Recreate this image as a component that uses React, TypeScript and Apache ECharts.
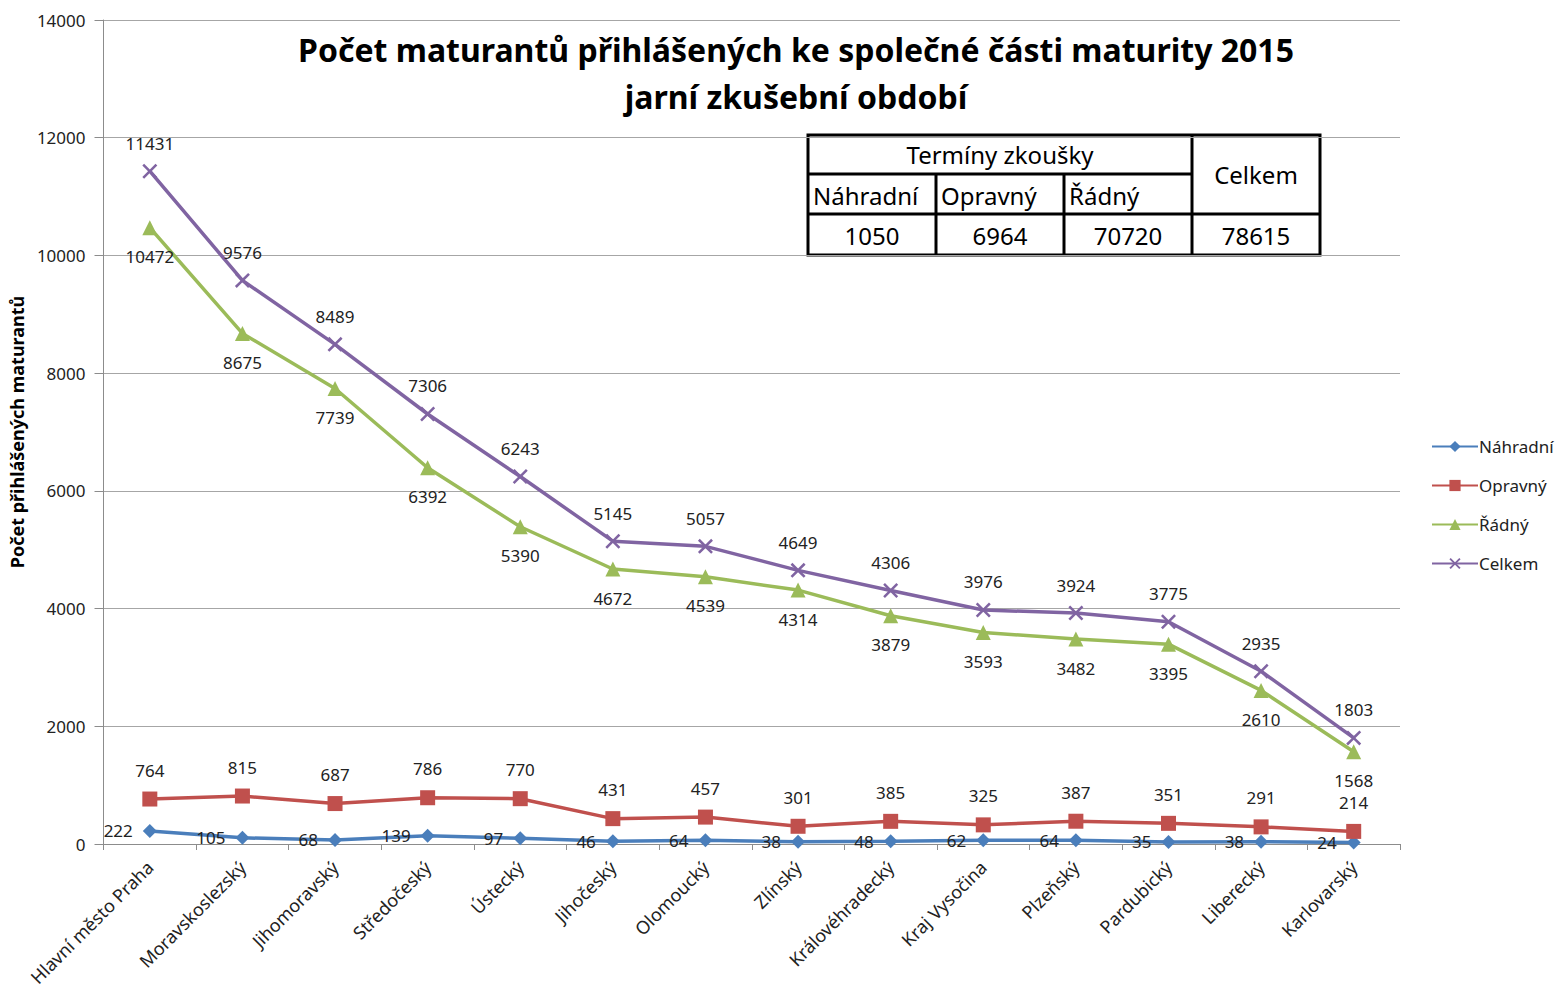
import React, { useEffect, useRef } from "react";
import * as echarts from "echarts";

const categories = [
  "Hlavní město Praha", "Moravskoslezský", "Jihomoravský", "Středočeský", "Ústecký",
  "Jihočeský", "Olomoucký", "Zlínský", "Královéhradecký", "Kraj Vysočina",
  "Plzeňský", "Pardubický", "Liberecký", "Karlovarský",
];
const nahradni = [222, 105, 68, 139, 97, 46, 64, 38, 48, 62, 64, 35, 38, 24];
const opravny = [764, 815, 687, 786, 770, 431, 457, 301, 385, 325, 387, 351, 291, 214];
const radny = [10472, 8675, 7739, 6392, 5390, 4672, 4539, 4314, 3879, 3593, 3482, 3395, 2610, 1568];
const celkem = [11431, 9576, 8489, 7306, 6243, 5145, 5057, 4649, 4306, 3976, 3924, 3775, 2935, 1803];

const tableHeader = ["Termíny zkoušky", "Celkem"];
const tableCols = ["Náhradní", "Opravný", "Řádný"];
const tableValues = ["1050", "6964", "70720", "78615"];

const FONT = "'Noto Sans', 'DejaVu Sans', sans-serif";
const XPATH = "path://M1.2,0 L5,3.8 L8.8,0 L10,1.2 L6.2,5 L10,8.8 L8.8,10 L5,6.2 L1.2,10 L0,8.8 L3.8,5 L0,1.2 Z";

export default function App() {
  const ref = useRef<HTMLDivElement>(null);
  useEffect(() => {
    const chart = echarts.init(ref.current!, undefined, { renderer: "svg" });
    const labelBase = { show: true, fontSize: 17, color: "#222", fontFamily: FONT };
    const tx = 808, ty = 135, cw = 128, r1 = 39, r2 = 40, r3 = 41;
    const tableFont = { fontSize: 24, fontFamily: FONT, fill: "#000" };
    const graphics: any[] = [
      { type: "rect", shape: { x: tx, y: ty, width: cw * 4, height: r1 + r2 + r3 }, style: { fill: "#fff", stroke: "#000", lineWidth: 3 } },
      { type: "line", shape: { x1: tx, y1: ty + r1, x2: tx + cw * 3, y2: ty + r1 }, style: { stroke: "#000", lineWidth: 3 } },
      { type: "line", shape: { x1: tx, y1: ty + r1 + r2, x2: tx + cw * 4, y2: ty + r1 + r2 }, style: { stroke: "#000", lineWidth: 3 } },
      { type: "line", shape: { x1: tx + cw * 3, y1: ty, x2: tx + cw * 3, y2: ty + r1 + r2 + r3 }, style: { stroke: "#000", lineWidth: 3 } },
      { type: "line", shape: { x1: tx + cw, y1: ty + r1, x2: tx + cw, y2: ty + r1 + r2 + r3 }, style: { stroke: "#000", lineWidth: 3 } },
      { type: "line", shape: { x1: tx + cw * 2, y1: ty + r1, x2: tx + cw * 2, y2: ty + r1 + r2 + r3 }, style: { stroke: "#000", lineWidth: 3 } },
      { type: "text", x: tx + cw * 1.5, y: ty + r1 / 2, style: { ...tableFont, text: tableHeader[0], textAlign: "center", textVerticalAlign: "middle" } },
      { type: "text", x: tx + cw * 3.5, y: ty + (r1 + r2) / 2, style: { ...tableFont, text: tableHeader[1], textAlign: "center", textVerticalAlign: "middle" } },
    ];
    tableCols.forEach((c, i) => {
      graphics.push({ type: "text", x: tx + cw * i + 5, y: ty + r1 + r2 / 2 + 1, style: { ...tableFont, text: c, textAlign: "left", textVerticalAlign: "middle" } });
    });
    tableValues.forEach((v, i) => {
      graphics.push({ type: "text", x: tx + cw * i + cw / 2, y: ty + r1 + r2 + r3 / 2 + 1, style: { ...tableFont, text: v, textAlign: "center", textVerticalAlign: "middle" } });
    });

    chart.setOption({
      animation: false,
      backgroundColor: "#fff",
      title: {
        text: "Počet maturantů přihlášených ke společné části maturity 2015\njarní zkušební období",
        left: 791, top: 21, textAlign: "center",
        textStyle: { fontSize: 32, fontWeight: "bold", fontFamily: FONT, color: "#000", lineHeight: 47 },
      },
      grid: { left: 102, right: 163, top: 20, bottom: 148 },
      legend: {
        orient: "vertical", left: 1426, top: 433, itemWidth: 46, itemHeight: 14, itemGap: 22,
        textStyle: { fontSize: 17, fontFamily: FONT, color: "#222", padding: [0, 0, 0, -4] },
        data: ["Náhradní", "Opravný", "Řádný", "Celkem"],
      },
      xAxis: {
        type: "category", data: categories, boundaryGap: true,
        axisLine: { lineStyle: { color: "#8c8c8c", width: 1 } },
        axisTick: { show: true, alignWithLabel: false, length: 6, lineStyle: { color: "#8c8c8c" } },
        axisLabel: { rotate: 45, interval: 0, fontSize: 18, fontFamily: FONT, color: "#222", margin: 20 },
      },
      yAxis: {
        type: "value", min: 0, max: 14000, interval: 2000,
        name: "Počet přihlášených maturantů", nameLocation: "middle", nameGap: 72,
        nameTextStyle: { fontSize: 18, fontWeight: "bold", fontFamily: FONT, color: "#000" },
        axisLine: { show: true, lineStyle: { color: "#8c8c8c" } },
        axisTick: { show: true, inside: false, length: 9, lineStyle: { color: "#8c8c8c" } },
        axisLabel: { fontSize: 17, fontFamily: FONT, color: "#222", margin: 18, formatter: (v: number) => String(v) },
        splitLine: { lineStyle: { color: "#a6a6a6", width: 1 } },
      },
      series: [
        {
          name: "Náhradní", type: "line", data: nahradni, symbol: "diamond", symbolSize: 14,
          lineStyle: { color: "#4A7EBB", width: 3.5 }, itemStyle: { color: "#4A7EBB" },
          label: { ...labelBase, position: "left", distance: 10 },
        },
        {
          name: "Opravný", type: "line", data: opravny, symbol: "rect", symbolSize: 15,
          lineStyle: { color: "#C0504D", width: 3.5 }, itemStyle: { color: "#C0504D" },
          label: { ...labelBase, position: "top", distance: 13 },
        },
        {
          name: "Řádný", type: "line", data: radny, symbol: "triangle", symbolSize: 15,
          lineStyle: { color: "#9BBB59", width: 3.5 }, itemStyle: { color: "#9BBB59" },
          label: { ...labelBase, position: "bottom", distance: 13 },
        },
        {
          name: "Celkem", type: "line", data: celkem, symbol: XPATH, symbolSize: 15,
          lineStyle: { color: "#8064A2", width: 3.5 }, itemStyle: { color: "#8064A2" },
          label: { ...labelBase, position: "top", distance: 12 },
        },
      ],
      graphic: graphics,
    });
    return () => chart.dispose();
  }, []);
  return <div ref={ref} style={{ width: 1563, height: 992, position: "absolute", left: 0, top: 0 }} />;
}
